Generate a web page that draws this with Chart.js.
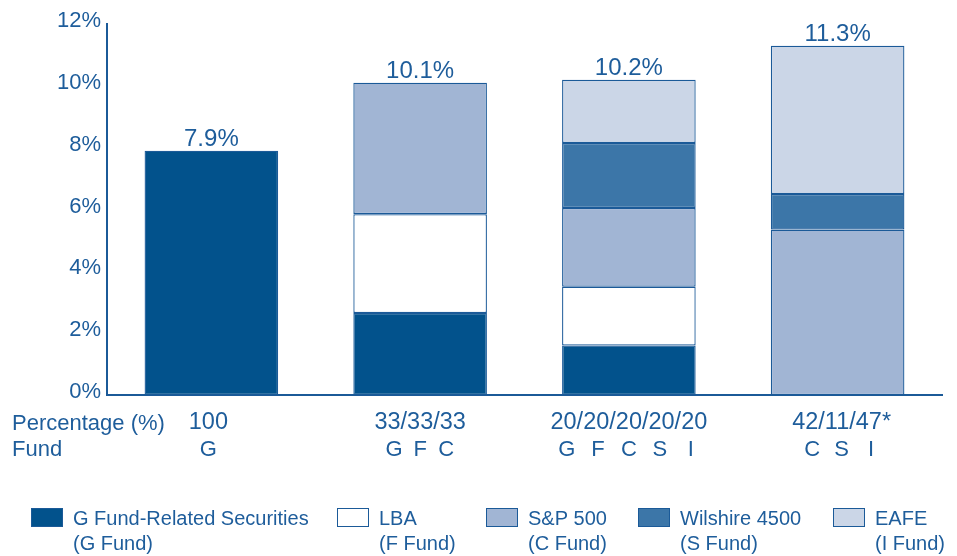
<!DOCTYPE html>
<html>
<head>
<meta charset="utf-8">
<script src="https://cdn.jsdelivr.net/npm/chart.js@4.4.1/dist/chart.umd.min.js"></script>
<style>
  html, body { margin: 0; padding: 0; background: #fff; }
  #wrap { width: 957px; height: 556px; }
</style>
</head>
<body>
<div id="wrap"><canvas id="myChart" width="957" height="556"></canvas></div>
<script>
// allocation mixes along the x axis
const mixes = ['100', '33/33/33', '20/20/20/20/20', '42/11/47*'];
const mixFunds = [['G'], ['G', 'F', 'C'], ['G', 'F', 'C', 'S', 'I'], ['C', 'S', 'I']];
const totals = ['7.9%', '10.1%', '10.2%', '11.3%'];

// stacked segment heights (%), bottom to top
const gFund = [7.9, 2.65, 1.6, null];
const fFund = [null, 3.2, 1.9, null];
const cFund = [null, 4.25, 2.55, 5.35];
const sFund = [null, null, 2.1, 1.15];
const iFund = [null, null, 2.05, 4.8];

const yTicks = [0, 2, 4, 6, 8, 10, 12];

const legendTop = ['G Fund-Related Securities', 'LBA', 'S&P 500', 'Wilshire 4500', 'EAFE'];
const legendBottom = ['(G Fund)', '(F Fund)', '(C Fund)', '(S Fund)', '(I Fund)'];

const textColor = '#1e5d9b';
const lineColor = '#1b5a98';
const fontFam = '"Liberation Sans", Arial, sans-serif';
const colors = ['#02528c', '#ffffff', '#a1b5d4', '#3c76a8', '#cbd6e7'];

// small nudges for the label rows under each bar
const labelShift = [-3, 0, 0, 4];
const letterGap = [0, 26, 31, 29.5];

// draws totals, category labels and the legend
const extras = {
    id: 'extras',
    afterDraw(chart) {
        const ctx = chart.ctx;
        const x = chart.scales.x;
        const y = chart.scales.y;
        ctx.save();
        ctx.fillStyle = textColor;
        ctx.textAlign = 'center';
        ctx.textBaseline = 'alphabetic';

        // totals above bars
        ctx.font = '24px ' + fontFam;
        const sums = mixes.map((m, i) =>
            [gFund, fFund, cFund, sFund, iFund].reduce((s, a) => s + (a[i] || 0), 0));
        sums.forEach((s, i) => {
            ctx.fillText(totals[i], x.getPixelForValue(i), y.getPixelForValue(s) - 5);
        });

        // category labels
        ctx.textBaseline = 'middle';
        mixes.forEach((m, i) => {
            const cx = x.getPixelForValue(i) + labelShift[i];
            ctx.font = '23.5px ' + fontFam;
            ctx.fillText(m, cx, 423);
            ctx.font = '22px ' + fontFam;
            const n = mixFunds[i].length;
            mixFunds[i].forEach((f, k) => {
                ctx.fillText(f, cx + (k - (n - 1) / 2) * letterGap[i], 450);
            });
        });
        ctx.textAlign = 'left';
        ctx.font = '22px ' + fontFam;
        ctx.fillText('Percentage (%)', 12, 424);
        ctx.fillText('Fund', 12, 450);

        // legend
        const boxX = [31, 337, 486, 638, 833];
        ctx.font = '20px ' + fontFam;
        legendTop.forEach((t, i) => {
            ctx.fillStyle = colors[i];
            ctx.fillRect(boxX[i], 508, 32, 19);
            ctx.strokeStyle = lineColor;
            ctx.lineWidth = 1;
            ctx.strokeRect(boxX[i] + 0.5, 508.5, 31, 18);
            ctx.fillStyle = textColor;
            ctx.fillText(t, boxX[i] + 42, 519);
            ctx.fillText(legendBottom[i], boxX[i] + 42, 544);
        });
        ctx.restore();
    }
};

const makeSet = (label, data, i) => ({
    label: label,
    data: data,
    backgroundColor: colors[i],
    borderColor: lineColor,
    borderWidth: 1.3,
    borderSkipped: false,
    barPercentage: 0.64,
    categoryPercentage: 1
});

const ctx = document.getElementById('myChart');

new Chart(ctx, {
    type: 'bar',
    data: {
        labels: mixes,
        datasets: [
            makeSet('G Fund', gFund, 0),
            makeSet('F Fund', fFund, 1),
            makeSet('C Fund', cFund, 2),
            makeSet('S Fund', sFund, 3),
            makeSet('I Fund', iFund, 4)
        ]
    },
    options: {
        responsive: false,
        animation: false,
        layout: { padding: { left: 0, top: 24, right: 15, bottom: 0 } },
        scales: {
            x: {
                stacked: true,
                grid: { display: false },
                border: { display: true, color: lineColor, width: 2 },
                ticks: { display: false },
                afterFit(scale) { scale.height = 161; }
            },
            y: {
                stacked: true,
                min: 0,
                max: 12,
                afterBuildTicks(scale) { scale.ticks = yTicks.map(v => ({ value: v })); },
                grid: { display: false, tickLength: 0 },
                border: { display: true, color: lineColor, width: 2 },
                ticks: {
                    color: textColor,
                    font: { family: fontFam, size: 22 },
                    padding: 6,
                    labelOffset: -3,
                    callback: v => v + '%'
                },
                afterFit(scale) { scale.width = 107; }
            }
        },
        plugins: {
            legend: { display: false },
            tooltip: { enabled: false }
        }
    },
    plugins: [extras]
});
</script>
</body>
</html>
